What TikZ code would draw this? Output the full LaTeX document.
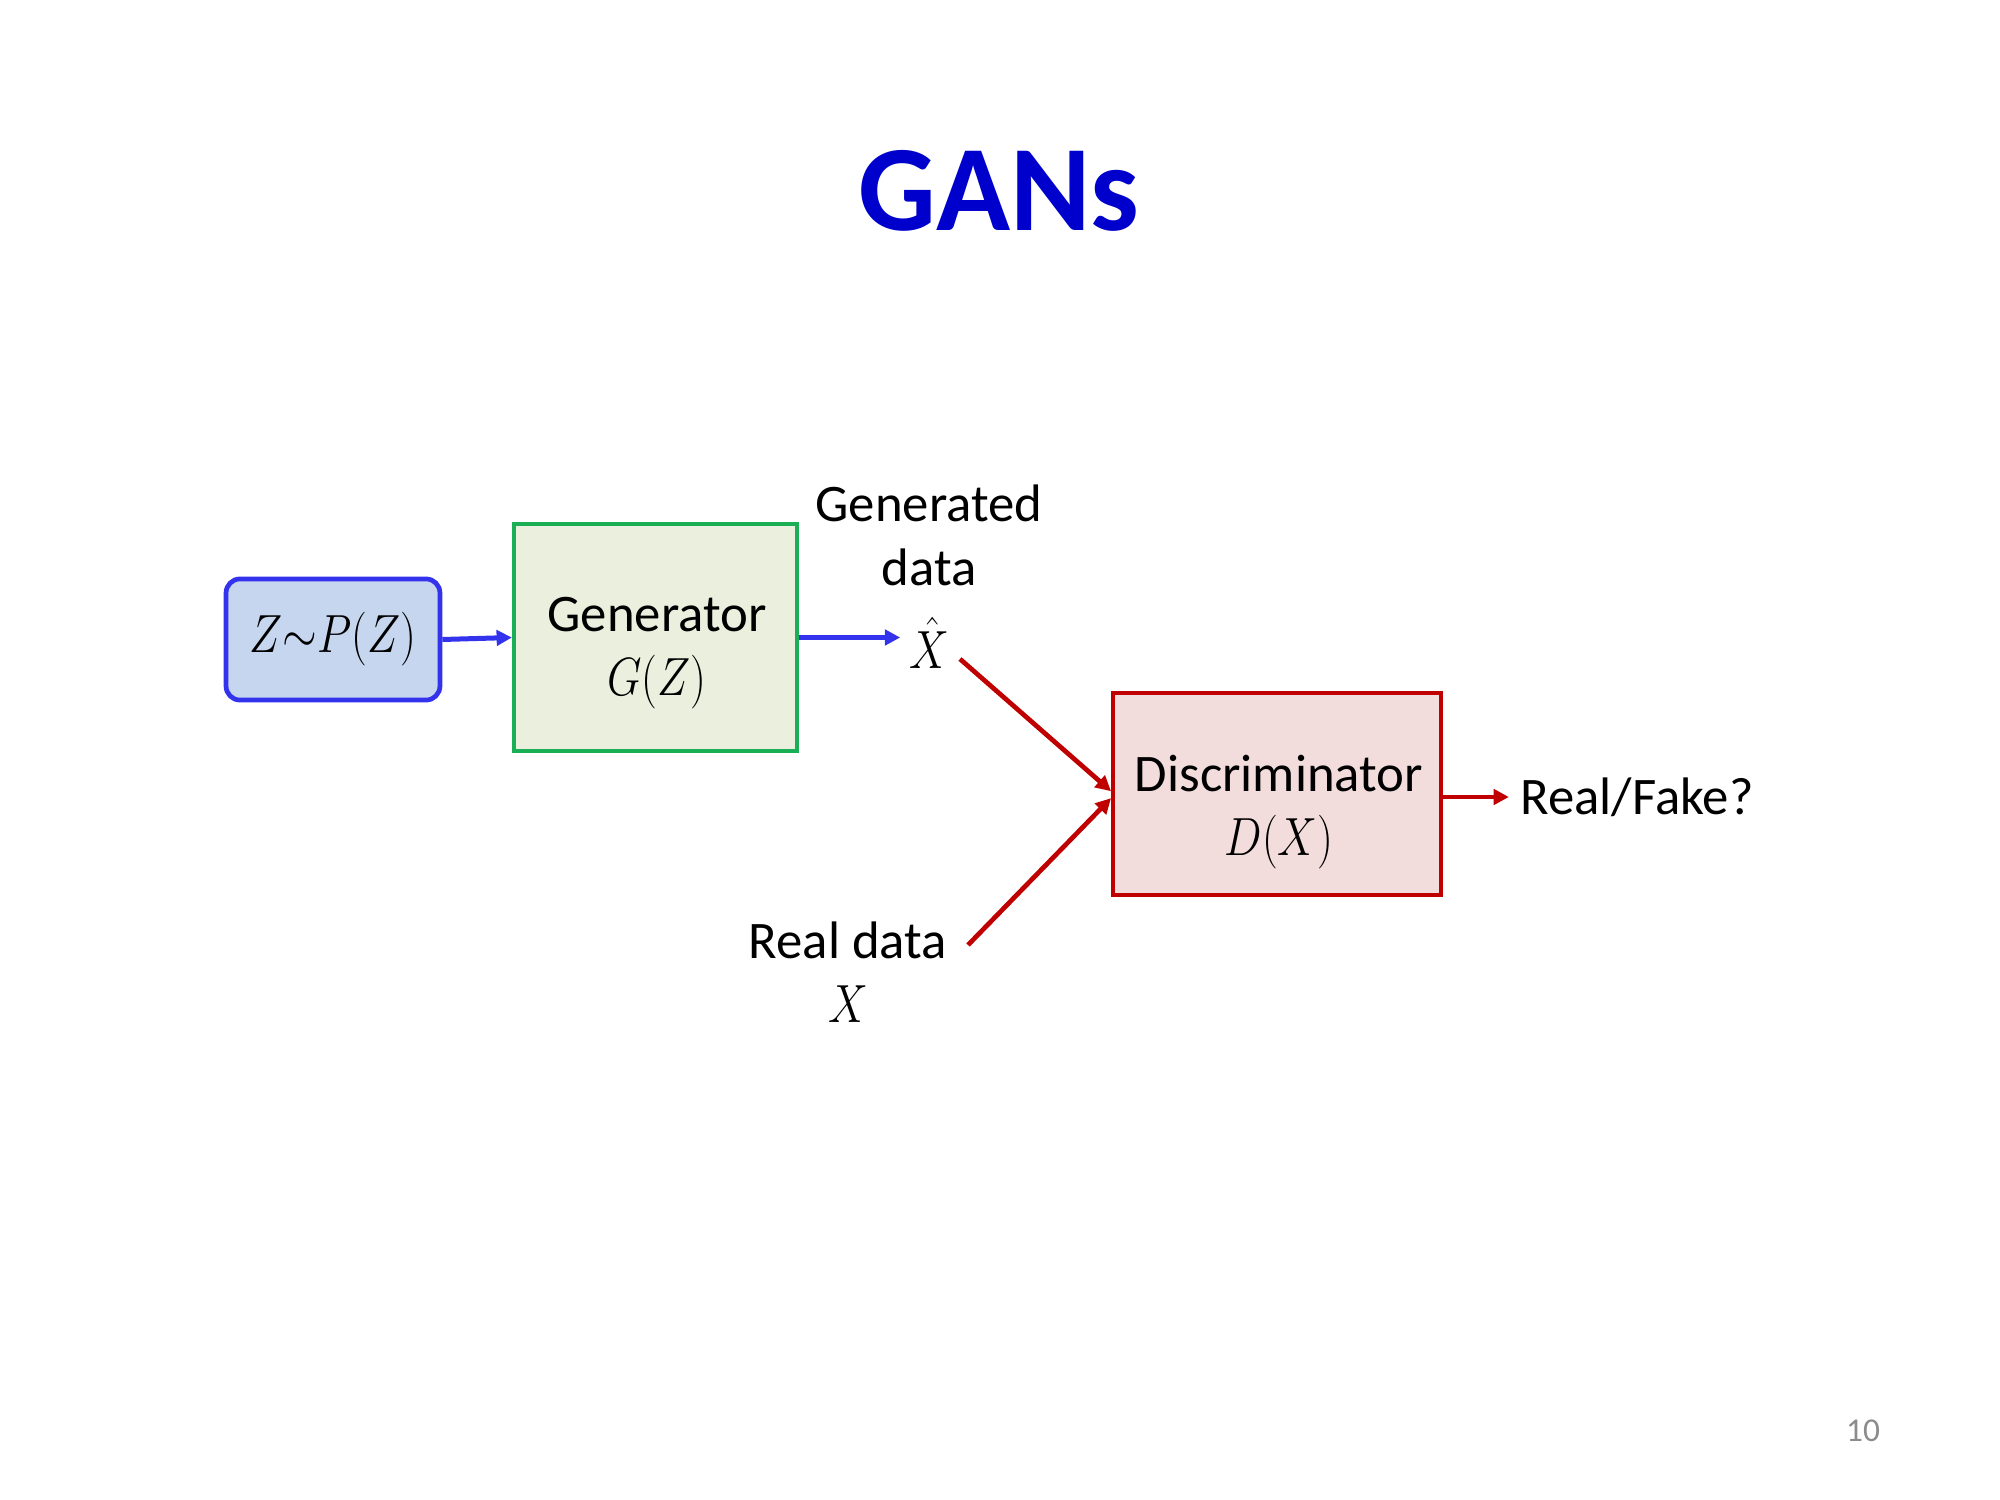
\documentclass[tikz,border=0pt]{standalone}
\usepackage{fontspec}
\usepackage{graphicx}
\setmainfont{Carlito}
\usetikzlibrary{arrows.meta}
\definecolor{titleblue}{HTML}{0000CC}
\definecolor{zfill}{HTML}{C6D6EF}
\definecolor{zdraw}{HTML}{3333EE}
\definecolor{gfill}{HTML}{EBEFDE}
\definecolor{gdraw}{HTML}{1AAF54}
\definecolor{dfill}{HTML}{F2DCDC}
\definecolor{ddraw}{HTML}{C00000}
\definecolor{barrow}{HTML}{3333EE}
\definecolor{pagegray}{HTML}{8C8C8C}
\newcommand{\bigmath}[1]{\scalebox{0.93}[1.12]{$#1$}}
\tikzset{
  body/.style={font=\fontsize{19}{23}\selectfont, align=center, inner sep=0pt},
  zbox/.style={draw=zdraw, fill=zfill, line width=1.7pt, rounded corners=5pt, minimum width=77pt, minimum height=43.6pt, body},
  gbox/.style={draw=gdraw, fill=gfill, line width=1.5pt, minimum width=101.9pt, minimum height=81.7pt, body},
  dbox/.style={draw=ddraw, fill=dfill, line width=1.5pt, minimum width=118pt, minimum height=72.7pt, body},
  bluearrow/.style={draw=barrow, line width=1.8pt, -{Triangle[length=5.5pt,width=5.5pt]}},
  redarrow/.style={draw=ddraw, line width=1.7pt, -{Triangle[length=5.5pt,width=5.5pt]}},
}
\begin{document}
\begin{tikzpicture}[x=0.36pt, y=-0.36pt]
\useasboundingbox[fill=white] (0,0) rectangle (2000,1500);
\node[font=\fontsize{44}{50}\selectfont\bfseries, text=titleblue, inner sep=0pt] (title) at (999,191) {GANs};
\node[zbox] (z) at (333,639.5) {\bigmath{Z{\sim}P(Z)}};
\node[gbox] (gen) at (655.5,637.5) {};
\node[body] (gentx) at (657,653) {Generator\\\bigmath{G(Z)}};
\node[body] (gentxt) at (929,535) {Generated\\data};
\node[body] (xhat) at (929,643) {\bigmath{\hat{X}}};
\node[dbox] (disc) at (1277,794) {};
\node[body] (disctx) at (1279,812) {Discriminator\\\bigmath{D(X)}};
\node[body, anchor=west] (out) at (1520,797) {Real/Fake?};
\node[body] (real) at (848,972) {Real data\\\bigmath{X}};
\coordinate (s1) at (960,659);
\coordinate (s2) at (968,945);
\draw[bluearrow] (z.east) -- (gen.west);
\draw[bluearrow] (gen.east) -- ([xshift=-3pt]gen.east-|xhat.west);
\draw[redarrow] (s1) -- ([yshift=1pt]disc.west);
\draw[redarrow] (s2) -- ([yshift=-1.5pt]disc.west);
\draw[redarrow] (disc.east|-out.west) -- ([xshift=-4pt]out.west);
\node[font=\fontsize{12}{14}\selectfont, text=pagegray, inner sep=0pt] (page) at (1863,1431) {10};
\end{tikzpicture}
\end{document}
